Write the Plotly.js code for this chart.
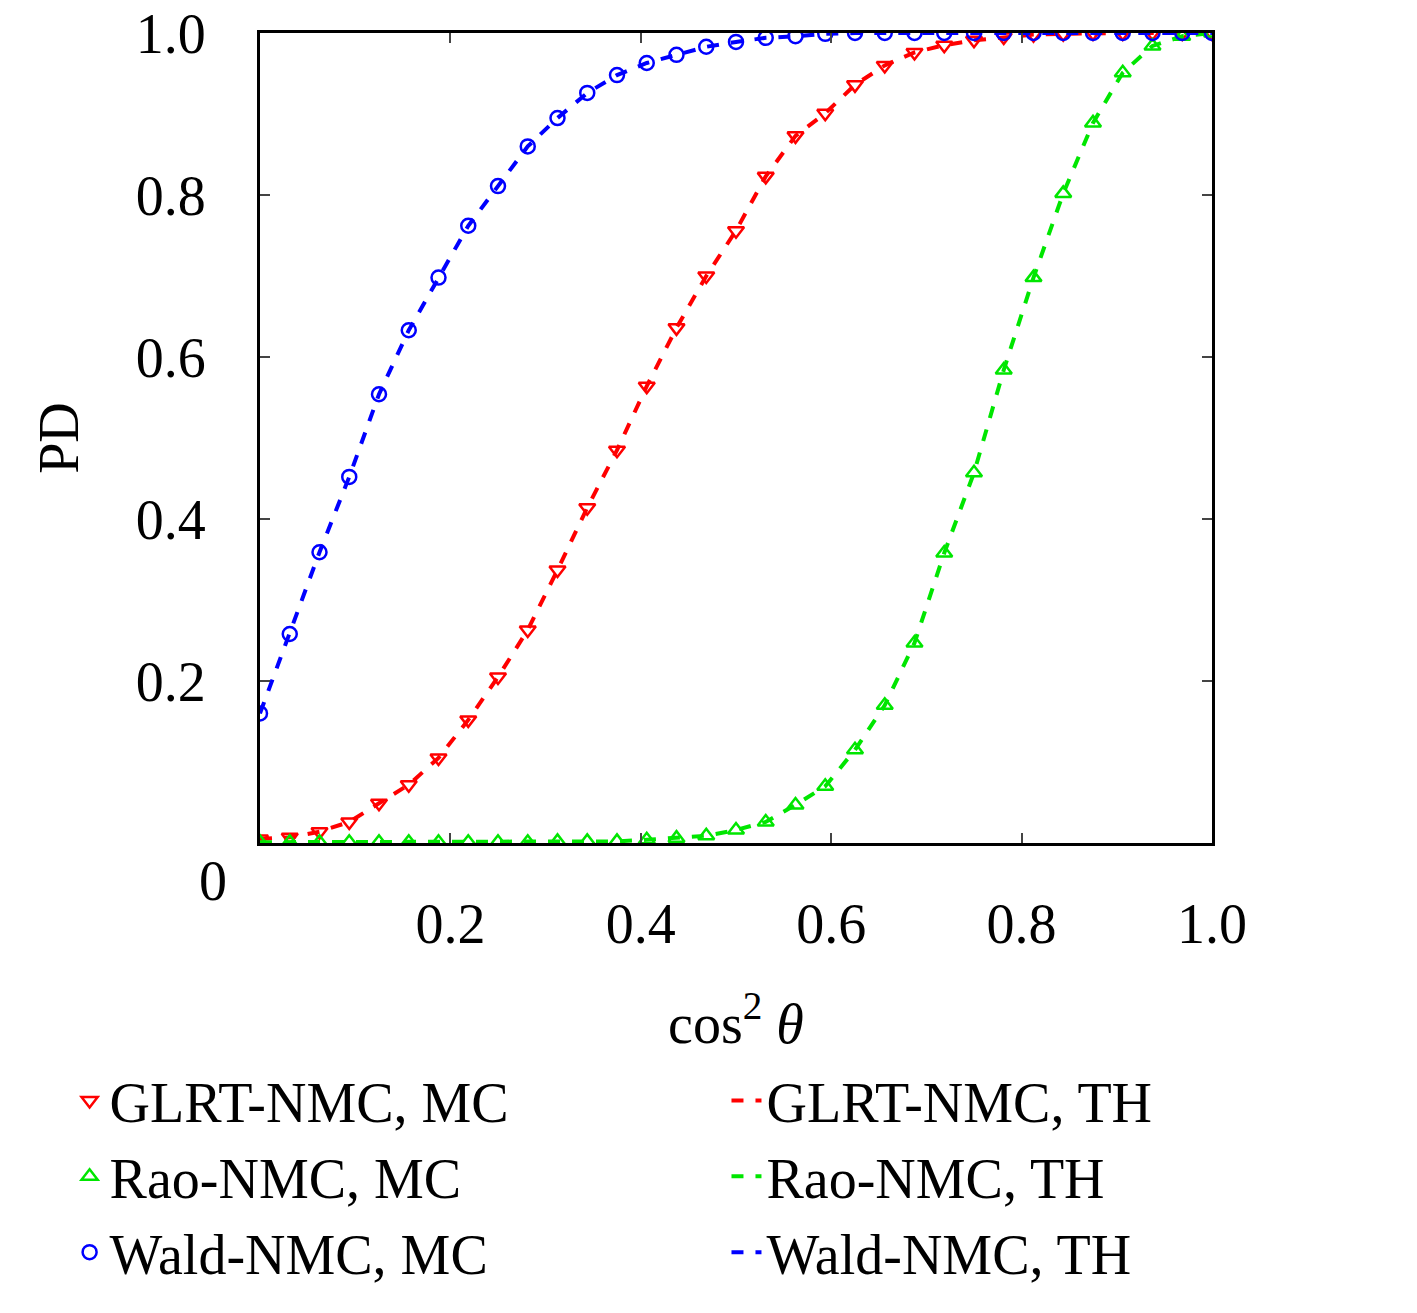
<!DOCTYPE html>
<html>
<head>
<meta charset="utf-8">
<script src="https://cdn.plot.ly/plotly-3.0.1.min.js"></script>
<style>body{margin:0;background:#fff}#plot{width:1417px;height:1313px}</style>
</head>
<body>
<div id="plot"></div>
<script>
// cos^2(theta) grid
const cos2 = [0, 0.03125, 0.0625, 0.09375, 0.125, 0.15625, 0.1875, 0.21875, 0.25, 0.28125,
    0.3125, 0.34375, 0.375, 0.40625, 0.4375, 0.46875, 0.5, 0.53125, 0.5625, 0.59375,
    0.625, 0.65625, 0.6875, 0.71875, 0.75, 0.78125, 0.8125, 0.84375, 0.875, 0.90625,
    0.9375, 0.96875, 1];

const pdGlrt = [0.005, 0.007, 0.014, 0.026, 0.049, 0.072, 0.105, 0.152, 0.205, 0.263,
    0.337, 0.414, 0.485, 0.564, 0.636, 0.700, 0.756, 0.823, 0.873, 0.901,
    0.936, 0.960, 0.976, 0.985, 0.991, 0.995, 0.998, 0.999, 1, 1,
    1, 1, 1];

const pdRao = [0.001, 0.001, 0.001, 0.001, 0.001, 0.001, 0.001, 0.001, 0.001, 0.001,
    0.002, 0.002, 0.002, 0.004, 0.006, 0.009, 0.016, 0.026, 0.047, 0.070,
    0.115, 0.170, 0.247, 0.358, 0.457, 0.584, 0.698, 0.802, 0.889, 0.951,
    0.984, 0.996, 1];

const pdWald = [0.160, 0.258, 0.359, 0.452, 0.554, 0.633, 0.698, 0.762, 0.811, 0.860,
    0.895, 0.926, 0.948, 0.963, 0.973, 0.983, 0.989, 0.994, 0.996, 0.999,
    1, 1, 1, 1, 1, 1, 1, 1, 1, 1,
    1, 1, 1];

const series = [
    { name: "GLRT-NMC", y: pdGlrt, color: "#ff0000", symbol: "triangle-down-open" },
    { name: "Rao-NMC", y: pdRao, color: "#00e600", symbol: "triangle-up-open" },
    { name: "Wald-NMC", y: pdWald, color: "#0000ff", symbol: "circle-open" },
];

const data = [];
series.forEach((s) => {
    data.push({
        x: cos2, y: s.y, name: s.name + ", TH", mode: "lines", type: "scatter",
        legend: "legend2",
        line: { color: s.color, width: 4, dash: "dash" },
    });
    data.push({
        x: cos2, y: s.y, name: s.name + ", MC", mode: "markers", type: "scatter",
        legend: "legend",
        marker: { symbol: s.symbol, color: s.color, size: 14, line: { width: 2.5, color: s.color } },
    });
});

const font = { family: "Liberation Serif, serif", size: 56, color: "#000" };

const legendBase = {
    orientation: "v", y: -0.265, xanchor: "left", yanchor: "top",
    font: font, traceorder: "normal", bgcolor: "rgba(0,0,0,0)",
};

const layout = {
    width: 1417, height: 1313,
    margin: { l: 260, r: 205, t: 33, b: 470, autoexpand: false },
    paper_bgcolor: "#fff", plot_bgcolor: "#fff",
    font: font,
    showlegend: true,
    legend: Object.assign({}, legendBase, { x: -0.2 }),
    legend2: Object.assign({}, legendBase, { x: 0.49 }),
    xaxis: {
        range: [0, 1], tickvals: [0.2, 0.4, 0.6, 0.8, 1.0], ticktext: ["0.2", "0.4", "0.6", "0.8", "1.0"],
        ticks: "inside", ticklen: 10, tickwidth: 2, mirror: "ticks", showline: true, linewidth: 3,
        linecolor: "#000", showgrid: false, zeroline: false, tickfont: font, ticklabelstandoff: 30,
        title: { text: "cos<sup>2</sup> <i>θ</i>", font: font, standoff: 50 },
    },
    yaxis: {
        range: [0, 1], tickvals: [0.2, 0.4, 0.6, 0.8, 1.0], ticktext: ["0.2", "0.4", "0.6", "0.8", "1.0"],
        ticks: "inside", ticklen: 10, tickwidth: 2, mirror: "ticks", showline: true, linewidth: 3,
        linecolor: "#000", showgrid: false, zeroline: false, tickfont: font, ticklabelstandoff: 40,
        title: { text: "PD", font: font, standoff: 40 },
    },
    annotations: [{
        text: "0", xref: "paper", yref: "paper", x: -0.066, y: -0.088,
        showarrow: false, font: font,
    }],
};

Plotly.newPlot("plot", data, layout, { staticPlot: true });
</script>
</body>
</html>
